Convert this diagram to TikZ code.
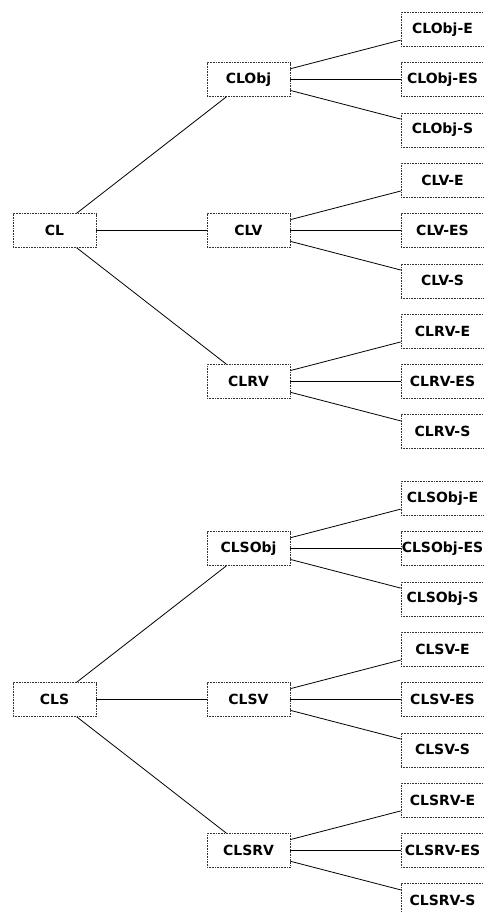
\documentclass[tikz,border=0pt]{standalone}
\usepackage{fontspec}
\setmainfont{DejaVu Sans}
\begin{document}
\begin{tikzpicture}[x=1pt,y=-1pt,
  box/.style={draw=black!80, densely dotted, line width=0.6pt, minimum width=83pt, minimum height=34pt, inner sep=0pt, font=\fontsize{14}{16}\selectfont\bfseries},
  link/.style={draw=black, line width=0.8pt}]
\useasboundingbox (0,0) rectangle (483,913);
% tree 1
\node[box] (CL) at (54.5,230.5) {CL};
\node[box] (CLObj) at (248.5,79.6) {CLObj};
\node[box] (CLV) at (248.5,230.5) {CLV};
\node[box] (CLRV) at (248.5,381.4) {CLRV};
\node[box] (CLObjE) at (442.5,29.3) {CLObj-E};
\node[box] (CLObjES) at (442.5,79.6) {CLObj-ES};
\node[box] (CLObjS) at (442.5,129.9) {CLObj-S};
\node[box] (CLVE) at (442.5,180.2) {CLV-E};
\node[box] (CLVES) at (442.5,230.5) {CLV-ES};
\node[box] (CLVS) at (442.5,280.8) {CLV-S};
\node[box] (CLRVE) at (442.5,331.1) {CLRV-E};
\node[box] (CLRVES) at (442.5,381.4) {CLRV-ES};
\node[box] (CLRVS) at (442.5,431.7) {CLRV-S};
% tree 2
\node[box] (CLS) at (54.5,699.5) {CLS};
\node[box] (CLSObj) at (248.5,548.6) {CLSObj};
\node[box] (CLSV) at (248.5,699.5) {CLSV};
\node[box] (CLSRV) at (248.5,850.4) {CLSRV};
\node[box] (CLSObjE) at (442.5,498.3) {CLSObj-E};
\node[box] (CLSObjES) at (442.5,548.6) {CLSObj-ES};
\node[box] (CLSObjS) at (442.5,598.9) {CLSObj-S};
\node[box] (CLSVE) at (442.5,649.2) {CLSV-E};
\node[box] (CLSVES) at (442.5,699.5) {CLSV-ES};
\node[box] (CLSVS) at (442.5,749.8) {CLSV-S};
\node[box] (CLSRVE) at (442.5,800.1) {CLSRV-E};
\node[box] (CLSRVES) at (442.5,850.4) {CLSRV-ES};
\node[box] (CLSRVS) at (442.5,900.7) {CLSRV-S};
% links
\foreach \a/\b in {CL/CLObj,CL/CLV,CL/CLRV,
  CLObj/CLObjE,CLObj/CLObjES,CLObj/CLObjS,
  CLV/CLVE,CLV/CLVES,CLV/CLVS,
  CLRV/CLRVE,CLRV/CLRVES,CLRV/CLRVS,
  CLS/CLSObj,CLS/CLSV,CLS/CLSRV,
  CLSObj/CLSObjE,CLSObj/CLSObjES,CLSObj/CLSObjS,
  CLSV/CLSVE,CLSV/CLSVES,CLSV/CLSVS,
  CLSRV/CLSRVE,CLSRV/CLSRVES,CLSRV/CLSRVS}
  \draw[link] (\a) -- (\b);
\end{tikzpicture}
\end{document}
